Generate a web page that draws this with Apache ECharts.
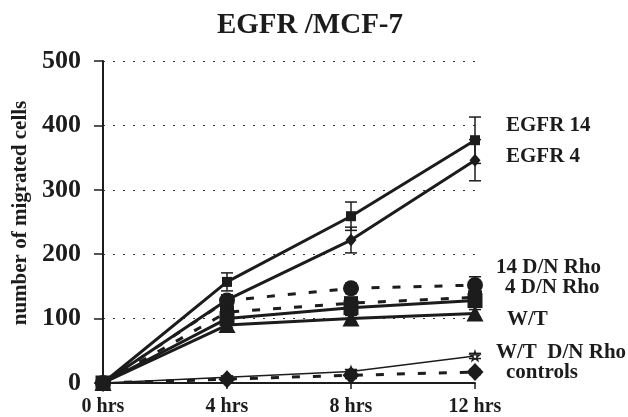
<!DOCTYPE html>
<html><head><meta charset="utf-8">
<script src="https://cdn.jsdelivr.net/npm/echarts@6/dist/echarts.min.js"></script>
<style>html,body{margin:0;padding:0;background:#fff}#c{width:628px;height:417px}</style>
</head><body><div id="c"></div>
<script>
const categories = ['0 hrs', '4 hrs', '8 hrs', '12 hrs'];
const yTicks = [0, 100, 200, 300, 400, 500];
const egfr14 = [0, 157, 259, 377];
const egfr14Err = [0, 14, 22, 36];
const egfr4 = [0, 129, 222, 346];
const egfr4Err = [0, 8, 20, 32];
const rho14 = [0, 128, 147, 152];
const rho14Err = [0, 6, 8, 13];
const rho4 = [0, 110, 124, 133];
const rho4Err = [0, 5, 6, 8];
const wtSolid = [0, 100, 117, 128];
const wt = [0, 90, 100, 108];
const wtErr = [0, 4, 5, 6];
const wtRho = [0, 9, 18, 42];
const wtRhoErr = [0, 2, 3, 4];
const controls = [0, 6, 12, 17];
const controlsErr = [0, 3, 5, 4];

const INK = '#1c1c1c';
const FONT = 'Liberation Serif';
const STAR = 'path://M50,0 L61,35 L98,35 L68,57 L79,91 L50,70 L21,91 L32,57 L2,35 L39,35 Z';

function lineSeries(name, data, opt) {
  return {
    type: 'line', name: name, data: data,
    symbol: opt.symbol, symbolSize: opt.size,
    itemStyle: { color: opt.fill || INK, borderColor: INK, borderWidth: opt.border || 0 },
    lineStyle: { color: INK, width: opt.width || 3, type: opt.dash ? [8, 13] : 'solid' },
    z: opt.z || 3,
    endLabel: opt.label ? {
      show: true, formatter: opt.label, offset: opt.offset,
      fontFamily: FONT, fontWeight: 'bold', fontSize: 21, color: INK
    } : { show: false }
  };
}
function errSeries(vals, errs) {
  return {
    type: 'custom', z: 2, silent: true,
    encode: { x: 0, y: [1, 2] },
    data: vals.map((v, i) => [i, v - errs[i], v + errs[i]]).filter((d, i) => errs[i] > 0),
    renderItem: function (params, api) {
      const lo = api.coord([api.value(0), api.value(1)]);
      const hi = api.coord([api.value(0), api.value(2)]);
      const w = 6, st = { stroke: INK, lineWidth: 1.5 };
      return { type: 'group', children: [
        { type: 'line', shape: { x1: hi[0], y1: hi[1], x2: lo[0], y2: lo[1] }, style: st },
        { type: 'line', shape: { x1: hi[0] - w, y1: hi[1], x2: hi[0] + w, y2: hi[1] }, style: st },
        { type: 'line', shape: { x1: lo[0] - w, y1: lo[1], x2: lo[0] + w, y2: lo[1] }, style: st }
      ] };
    }
  };
}

const chart = echarts.init(document.getElementById('c'));
chart.setOption({
  animation: false,
  backgroundColor: '#fff',
  title: {
    text: 'EGFR /MCF-7', left: 305, top: 6, textAlign: 'center',
    textStyle: { fontFamily: FONT, fontWeight: 'bold', fontSize: 29, color: INK }
  },
  grid: { left: 103, right: 153, top: 61, bottom: 34, containLabel: false, outerBoundsMode: 'none' },
  xAxis: {
    type: 'category', data: categories, boundaryGap: false,
    axisLine: { lineStyle: { color: INK, width: 2 } },
    axisTick: { show: true, inside: false, length: 6, lineStyle: { color: INK, width: 1.5 } },
    axisLabel: { margin: 14, fontFamily: FONT, fontWeight: 'bold', fontSize: 20, color: INK },
    splitLine: { show: false }
  },
  yAxis: {
    type: 'value', min: yTicks[0], max: yTicks[yTicks.length - 1], interval: 100,
    name: 'number of migrated cells', nameLocation: 'middle', nameRotate: 90, nameGap: 72,
    nameTextStyle: { fontFamily: FONT, fontWeight: 'bold', fontSize: 21, color: INK, padding: [0, 0, 0, 18] },
    axisLine: { show: true, lineStyle: { color: INK, width: 2 } },
    axisTick: { show: true, inside: false, length: 9, lineStyle: { color: INK, width: 1.5 } },
    axisLabel: { margin: 22, fontFamily: FONT, fontWeight: 'bold', fontSize: 26, color: INK },
    splitLine: { show: true, lineStyle: { color: '#333', width: 1, type: [2, 8] } }
  },
  series: [
    errSeries(egfr14, egfr14Err),
    errSeries(egfr4, egfr4Err),
    errSeries(rho14, rho14Err),
    errSeries(rho4, rho4Err),
    errSeries(wt, wtErr),
    errSeries(wtRho, wtRhoErr),
    errSeries(controls, controlsErr),
    lineSeries('EGFR 14', egfr14, { symbol: 'rect', size: 10, label: 'EGFR 14', offset: [23, -15] }),
    lineSeries('EGFR 4', egfr4, { symbol: 'diamond', size: [11, 13], label: 'EGFR 4', offset: [23, -4] }),
    lineSeries('14 D/N Rho', rho14, { symbol: 'circle', size: 16, dash: true, label: '14 D/N Rho', offset: [13, -18] }),
    lineSeries('4 D/N Rho', rho4, { symbol: 'rect', size: 14, dash: true, label: '4 D/N Rho', offset: [22, -10] }),
    lineSeries('', wtSolid, { symbol: 'rect', size: 15 }),
    lineSeries('W/T', wt, { symbol: 'triangle', size: [17, 16], label: 'W/T', offset: [24, 6] }),
    lineSeries('W/T D/N Rho', wtRho, { symbol: STAR, size: 9, width: 1.5, fill: '#fff', border: 1.5, label: 'W/T  D/N Rho', offset: [13, -3] }),
    lineSeries('controls', controls, { symbol: 'diamond', size: [17, 18], dash: true, label: 'controls', offset: [23, 1] })
  ]
});
</script></body></html>
